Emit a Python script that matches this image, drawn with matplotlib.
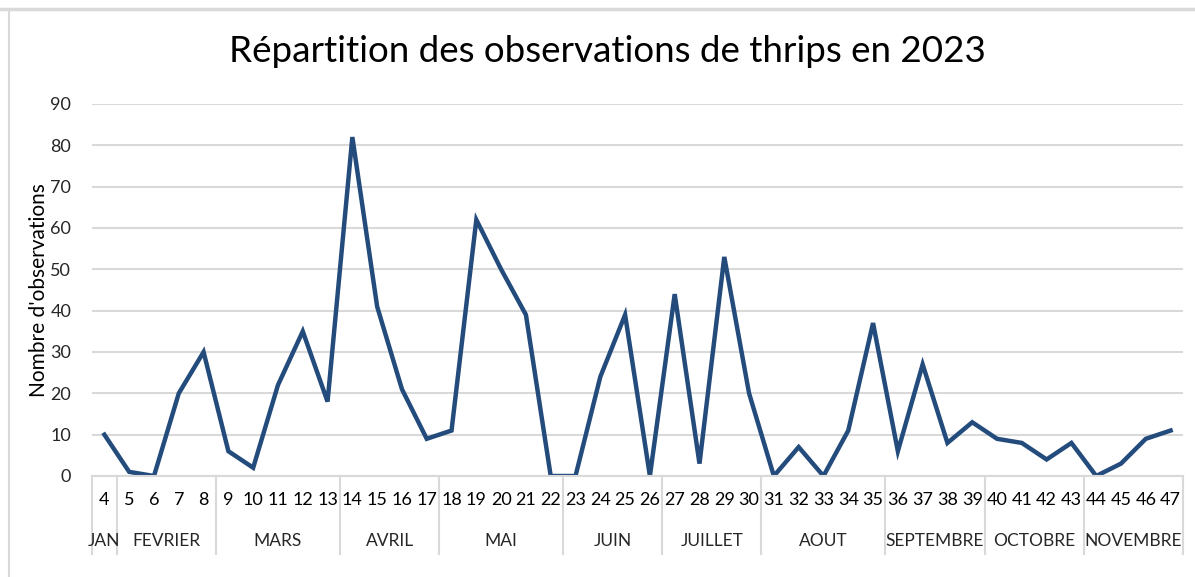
import matplotlib
matplotlib.use('Agg')
import matplotlib.pyplot as plt
from matplotlib.lines import Line2D
import matplotlib.transforms as mtransforms

# --- Data ---
weeks = list(range(4, 48))
observations = [10, 1, 0, 20, 30, 6, 2, 22, 35, 18,
                82, 41, 21, 9, 11, 62, 50, 39, 0, 0,
                24, 39, 0, 44, 3, 53, 20, 0, 7, 0,
                11, 37, 6, 27, 8, 13, 9, 8, 4, 8,
                0, 3, 9, 11]
months = ["JAN", "FEVRIER", "MARS", "AVRIL", "MAI", "JUIN", "JUILLET",
          "AOUT", "SEPTEMBRE", "OCTOBRE", "NOVEMBRE"]
weeks_per_month = [1, 4, 5, 4, 5, 4, 4, 5, 4, 4, 4]

plt.rcParams['font.family'] = ['Lato', 'DejaVu Sans']

LINE = "#234b7c"
GRID = "#d9d9d9"
TEXT = "#262626"

fig = plt.figure(figsize=(11.95, 5.77), dpi=100)
ax = fig.add_axes([92 / 1195, 1 - 476 / 577, (1183 - 92) / 1195, (476 - 104) / 577])

x = list(range(len(weeks)))
ax.plot(x, observations, color=LINE, linewidth=3.2, solid_joinstyle='miter')

ax.set_xlim(-0.5, len(weeks) - 0.5)
ax.set_ylim(0, 90)
ax.set_yticks(range(0, 91, 10))
ax.tick_params(axis='y', length=0, pad=15, labelsize=13, labelcolor=TEXT)
ax.set_xticks([])
ax.grid(axis='y', color=GRID, linewidth=1.5)
ax.set_axisbelow(True)
for side in ["top", "right", "left"]:
    ax.spines[side].set_visible(False)
ax.spines["bottom"].set_color(GRID)
ax.spines["bottom"].set_linewidth(1.5)

ax.set_ylabel("Nombre d'observations", fontsize=15, color="#000000", labelpad=1)
fig.suptitle("Répartition des observations de thrips en 2023", fontsize=26.5,
             x=(222 + 993) / 2 / 1195, y=1 - 52 / 577, va='center', color="#000000")

# category axis: week numbers, month groups and separators
trans = mtransforms.blended_transform_factory(ax.transData, ax.transAxes)
for xi, w in zip(x, weeks):
    ax.text(xi, -0.065, str(w), transform=trans, ha='center', va='center',
            fontsize=13, color="#000000")

start = -0.5
bounds = [start]
for m, n in zip(months, weeks_per_month):
    end = start + n
    ax.text((start + end) / 2, -0.176, m, transform=trans, ha='center', va='center',
            fontsize=12.5, color=TEXT)
    bounds.append(end)
    start = end
for b in bounds:
    ax.plot([b, b], [0, -0.21], transform=trans, color=GRID, linewidth=1.5, clip_on=False)

# outer frame fragments
fig.add_artist(Line2D([0, 1], [1 - 9 / 577, 1 - 9 / 577], color=GRID, linewidth=2.5))
fig.add_artist(Line2D([9 / 1195, 9 / 1195], [0, 1 - 9 / 577], color=GRID, linewidth=1.5))

fig.savefig("out.png", dpi=100)
